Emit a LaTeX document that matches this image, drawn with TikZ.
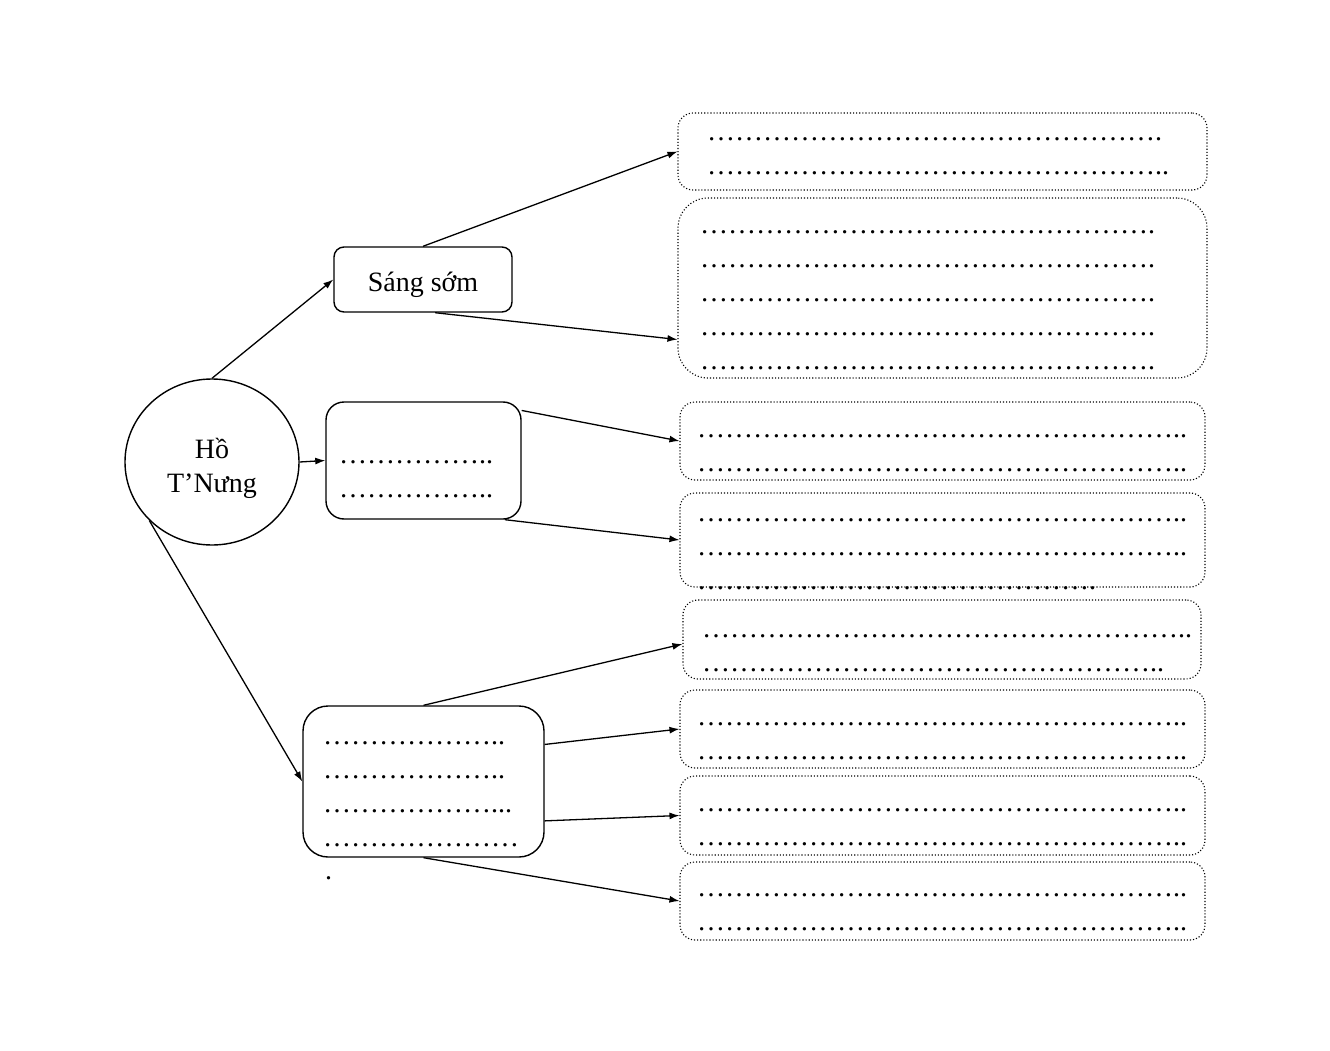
\documentclass[tikz,border=0pt]{standalone}
\usepackage{fontspec}
\setmainfont{Liberation Serif}
\usetikzlibrary{arrows.meta,shapes.geometric}

\newcommand{\dotrow}[1]{\foreach \k in {1,...,#1}{…}}

\begin{document}
\begin{tikzpicture}[x=1pt, y=-1pt,
    font=\fontsize{28}{34}\selectfont,
    ovalnode/.style={draw, ellipse, line width=1.4pt, align=center, inner sep=0pt},
    mainbox/.style={draw, rectangle, rounded corners=#1, line width=1.4pt, inner sep=0pt},
    fillbox/.style={draw, rectangle, rounded corners=#1, line width=1.1pt, dash pattern=on 1.1pt off 2pt, inner sep=0pt},
    filltext/.style={anchor=west, align=left, inner sep=0pt},
    link/.style={-{Latex[length=10pt,width=7pt]}, line width=1.3pt}]
        \useasboundingbox (0,0) rectangle (1330,1051);

        % left side
        \node[ovalnode, minimum width=174pt, minimum height=166pt] (ho) at (212,462) {\rule{0pt}{34pt}Hồ\\T’Nưng};
        \node[mainbox=10pt, minimum width=178pt, minimum height=65pt] (sang) at (423,279.5) {\rule{0pt}{30pt}Sáng sớm};
        \node[mainbox=18pt, minimum width=195pt, minimum height=117pt] (mid) at (423.5,460.5) {};
        \node[mainbox=25pt, minimum width=241pt, minimum height=151pt] (low) at (423.5,781.5) {};
        \node[filltext] (midtext) at (339,479) {\dotrow{5}..\\\dotrow{5}..};
        \node[filltext] (lowtext) at (323,794.5) {\dotrow{6}..\\\dotrow{6}..\\\dotrow{6}...\\\dotrow{7}};
        \node[filltext] (lowtail) at (325,878) {.};

        % right side
        \node[fillbox=15pt, minimum width=529pt, minimum height=77pt] (boxA) at (942.5,151.5) {};
        \node[fillbox=30pt, minimum width=529pt, minimum height=180pt] (boxB) at (942.5,288) {};
        \node[fillbox=15pt, minimum width=525pt, minimum height=78pt] (boxC) at (942.5,441) {};
        \node[fillbox=15pt, minimum width=525pt, minimum height=94pt] (boxD) at (942.5,540) {};
        \node[fillbox=15pt, minimum width=518pt, minimum height=79pt] (boxE) at (942,639.5) {};
        \node[fillbox=15pt, minimum width=525pt, minimum height=78pt] (boxF) at (942.5,729) {};
        \node[fillbox=15pt, minimum width=525pt, minimum height=79pt] (boxG) at (942.5,815.5) {};
        \node[fillbox=15pt, minimum width=525pt, minimum height=78pt] (boxH) at (942.5,901) {};

        \node[filltext] (textA) at (707,156.5) {\dotrow{16}.\\\dotrow{16}..};
        \node[filltext] (textB) at (700,300) {\dotrow{16}.\\\dotrow{16}.\\\dotrow{16}.\\\dotrow{16}.\\\dotrow{16}.};
        \node[filltext] (textC) at (697,453) {\dotrow{17}..\\\dotrow{17}..};
        \node[filltext] (textD) at (697,554) {\dotrow{17}..\\\dotrow{17}..\\\dotrow{14}.};
        \node[filltext] (textE) at (702,653) {\dotrow{17}..\\\dotrow{16}..};
        \node[filltext] (textF) at (697,741.5) {\dotrow{17}..\\\dotrow{17}..};
        \node[filltext] (textG) at (697,827.5) {\dotrow{17}..\\\dotrow{17}..};
        \node[filltext] (textH) at (697,912.5) {\dotrow{17}..\\\dotrow{17}..};

        % arrows
        \draw[link] (ho.north) -- (sang.west);
        \draw[link] (ho.east) -- (mid.west);
        \draw[link] (ho.223) -- (low.west);
        \draw[link] (sang.north) -- (boxA.west);
        \draw[link] (sang.290) -- (boxB.191);
        \draw[link] (mid.27) -- (boxC.west);
        \draw[link] (mid.-36) -- (boxD.west);
        \draw[link] (low.north) -- (boxE.181);
        \draw[link] (low.17) -- (boxF.west);
        \draw[link] (low.-18) -- (boxG.west);
        \draw[link] (low.south) -- (boxH.west);
    \end{tikzpicture}
\end{document}
